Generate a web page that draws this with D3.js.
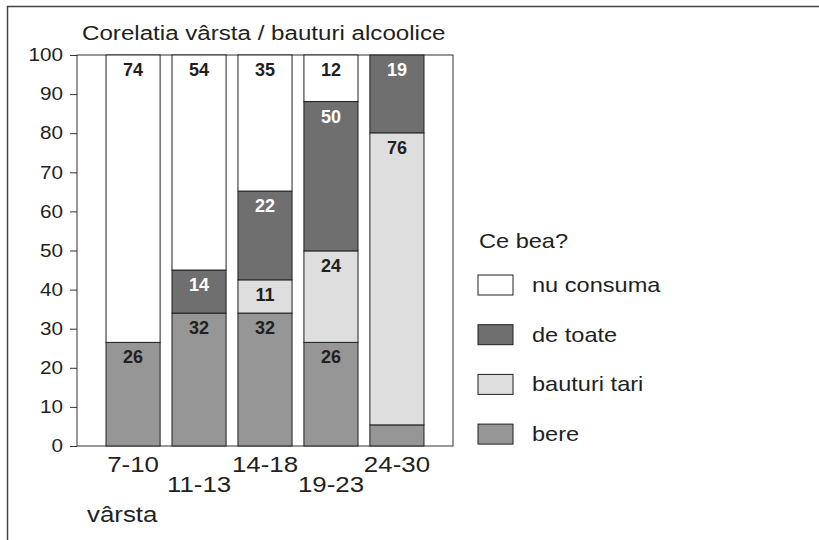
<!DOCTYPE html>
<html>
<head>
<meta charset="utf-8" />
<title>Corelatia varsta / bauturi alcoolice</title>
<script src="https://cdn.jsdelivr.net/npm/d3@7"></script>
<style>
    body { margin:0; background:#fff; }
    text { font-family: "Liberation Sans", Arial, sans-serif; fill:#231f20; }
</style>
</head>
<body>
<svg id="CHART" width="819" height="540"></svg>
<script>
    // age groups
    var categories = ["7-10", "11-13", "14-18", "19-23", "24-30"];

    // segment heights (% of bar), bottom to top
    var bere      = [26.5, 34, 34, 26.5, 5.4];
    var tari      = [0, 0, 8.5, 23.4, 74.7];
    var deToate   = [0, 11, 22.7, 38.2, 19.9];
    var nuConsuma = [73.5, 55, 34.8, 11.9, 0];

    // printed labels (they don't always match the heights)
    var bereLbl      = ["26", "32", "32", "26", ""];
    var tariLbl      = ["", "", "11", "24", "76"];
    var deToateLbl   = ["", "14", "22", "50", "19"];
    var nuConsumaLbl = ["74", "54", "35", "12", ""];

    var yTicks = [0, 10, 20, 30, 40, 50, 60, 70, 80, 90, 100];

    var seriesNames = ["bere", "bauturi tari", "de toate", "nu consuma"];
    var legendOrder = ["nu consuma", "de toate", "bauturi tari", "bere"];
    var fills = { "bere": "#969696", "bauturi tari": "#dedede", "de toate": "#6f6f6f", "nu consuma": "#ffffff" };
    var lblColor = { "bere": "#231f20", "bauturi tari": "#231f20", "de toate": "#ffffff", "nu consuma": "#231f20" };

    var Values = [bere, tari, deToate, nuConsuma];
    var Labels = [bereLbl, tariLbl, deToateLbl, nuConsumaLbl];

    var rows = categories.map(function (c, i) {
        var r = { cat: c };
        seriesNames.forEach(function (s, k) { r[s] = Values[k][i]; });
        return r;
    });
    var stacked = d3.stack().keys(seriesNames)(rows);

    var svg = d3.select("#CHART");
    var Left = 77, Right = 453, Top = 55, Bottom = 446;
    var SX = 1.15; // the original text is a bit wider than it is tall

    var x = d3.scaleBand().domain(categories).range([Left, Right]).paddingInner(0.18).paddingOuter(0.44);
    var y = d3.scaleLinear().domain([0, 100]).range([Bottom, Top]);

    function wideText(parent, px, py, size, txt, anchor) {
        return parent.append("text")
            .attr("transform", "translate(" + px + "," + py + ") scale(" + SX + ",1)")
            .attr("text-anchor", anchor || "start")
            .style("font-size", size + "px")
            .text(txt);
    }

    // outer frame (only left and top edges fall inside the picture)
    svg.append("path")
        .attr("d", "M7.5,540V6.5H819")
        .attr("fill", "none").attr("stroke", "#444").attr("stroke-width", 1.5);

    // title
    wideText(svg, 82, 40, 21, "Corelatia vârsta / bauturi alcoolice");

    // plot frame
    svg.append("rect")
        .attr("x", Left).attr("y", Top)
        .attr("width", Right - Left).attr("height", Bottom - Top)
        .attr("fill", "none").attr("stroke", "#333").attr("stroke-width", 1);

    // y axis
    var yAxis = svg.append("g")
        .attr("transform", "translate(" + Left + ",0)")
        .call(d3.axisLeft(y).tickValues(yTicks).tickSize(7).tickPadding(7));
    yAxis.select(".domain").remove();
    yAxis.selectAll(".tick line").attr("stroke", "#333");
    yAxis.selectAll(".tick text")
        .attr("fill", "#231f20")
        .attr("x", -14 / SX)
        .attr("transform", "scale(" + SX + ",1)")
        .style("font-size", "18px")
        .style("font-family", "'Liberation Sans', Arial, sans-serif");

    // bars
    var layers = svg.selectAll("g.layer").data(stacked).enter()
        .append("g").attr("class", "layer");

    layers.selectAll("rect")
        .data(function (d) { return d.filter(function (p) { return p[1] - p[0] > 0; }); })
        .enter().append("rect")
        .attr("x", function (d) { return x(d.data.cat); })
        .attr("y", function (d) { return y(d[1]); })
        .attr("width", x.bandwidth())
        .attr("height", function (d) { return y(d[0]) - y(d[1]); })
        .attr("fill", function () { return fills[d3.select(this.parentNode).datum().key]; })
        .attr("stroke", "#231f20").attr("stroke-width", 1);

    // value labels, near the top of each segment
    layers.each(function (layer, k) {
        var g = d3.select(this);
        layer.forEach(function (p, i) {
            var t = Labels[k][i];
            if (!t) return;
            g.append("text")
                .attr("x", x(p.data.cat) + x.bandwidth() / 2)
                .attr("y", y(p[1]) + 21)
                .attr("text-anchor", "middle")
                .style("font-size", "18px").style("font-weight", "bold")
                .style("fill", lblColor[layer.key])
                .text(t);
        });
    });

    // category labels, staggered on two rows
    categories.forEach(function (c, i) {
        wideText(svg, x(c) + x.bandwidth() / 2, i % 2 ? 492 : 472, 22.5, c, "middle");
    });

    wideText(svg, 87, 522, 22.5, "vârsta");

    // legend
    var legend = svg.append("g");
    wideText(legend, 479, 248, 20.5, "Ce bea?");

    var item = legend.selectAll("g.item").data(legendOrder).enter()
        .append("g").attr("class", "item")
        .attr("transform", function (d, i) { return "translate(478," + (275 + i * 49.7) + ")"; });
    item.append("rect")
        .attr("width", 35).attr("height", 20)
        .attr("fill", function (d) { return fills[d]; })
        .attr("stroke", "#231f20").attr("stroke-width", 1);
    item.each(function (d) {
        wideText(d3.select(this), 54, 17, 20.5, d);
    });
</script>
</body>
</html>
